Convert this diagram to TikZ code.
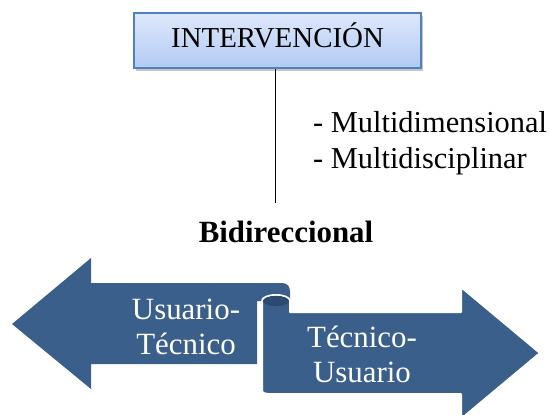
\documentclass[tikz,border=0pt]{standalone}
\usepackage{fontspec}
\setmainfont{Liberation Serif}
\usetikzlibrary{shadows,positioning,calc}
\definecolor{arrowblue}{RGB}{59,95,139}
\definecolor{rolldark}{RGB}{44,73,112}
\definecolor{boxline}{RGB}{79,129,189}
\definecolor{boxtop}{RGB}{222,232,251}
\definecolor{boxbottom}{RGB}{178,202,243}
\tikzset{
    intbox/.style={
        rectangle,
        draw=boxline,
        line width=1.4bp,
        top color=boxtop,
        bottom color=boxbottom,
        minimum width=287bp,
        minimum height=55bp,
        text height=18bp,
        text depth=4bp,
        drop shadow={shadow xshift=2bp, shadow yshift=-2.5bp, opacity=0.45},
        font=\fontsize{29}{34}\selectfont,
    },
    listitem/.style={
        anchor=base west,
        inner sep=0pt,
        font=\fontsize{30.5}{36}\selectfont,
    },
    heading/.style={
        anchor=base,
        inner sep=0pt,
        font=\fontsize{31}{36}\selectfont\bfseries,
    },
    arrowtext/.style={
        text=white,
        align=center,
        inner sep=0pt,
        font=\fontsize{31}{35}\selectfont,
    },
    bigarrow/.style={
        fill=arrowblue,
        line join=round,
    },
    rimmed/.style={
        draw=white,
        line width=2bp,
    },
    stemline/.style={
        draw=black,
        line width=1bp,
    },
}

\begin{document}
\begin{tikzpicture}[x=1bp,y=-1bp]
    \useasboundingbox (0,0) rectangle (549,414);
    \node [intbox] (interv) at (277.5,40.5) {INTERVENCIÓN};
    \coordinate (stemend) at (275,203);
    \draw [stemline] (stemend |- interv.south) -- (stemend);
    \node [listitem] (dim) at (313,132) {- Multidimensional};
    \node [listitem] (disc) at (313,168) {- Multidisciplinar};
    \node [heading] (bidir) at (286,242) {Bidireccional};
    \path [bigarrow] (12,324) -- (91,258) -- (91,283) -- (282,283)
        .. controls (288,283) and (290,287) .. (290,292) -- (290,301)
        -- (257,301) -- (257,364) -- (91,364) -- (91,389) -- cycle;
    \path [bigarrow,rimmed] (262,301) -- (262,387) .. controls (262,393) .. (268,394)
        -- (461,394) -- (461,419) -- (540,353) -- (461,287) -- (461,312)
        -- (290,312) -- (290,301)
        arc [start angle=0, end angle=-180, x radius=14, y radius=6] -- cycle;
    \fill [rolldark] (276,301) ellipse [x radius=13, y radius=5.2];
    \node [arrowtext] (usertech) at (186,327) {Usuario-\\Técnico};
    \node [arrowtext] (techuser) at (362,354) {Técnico-\\Usuario};
\end{tikzpicture}
\end{document}
